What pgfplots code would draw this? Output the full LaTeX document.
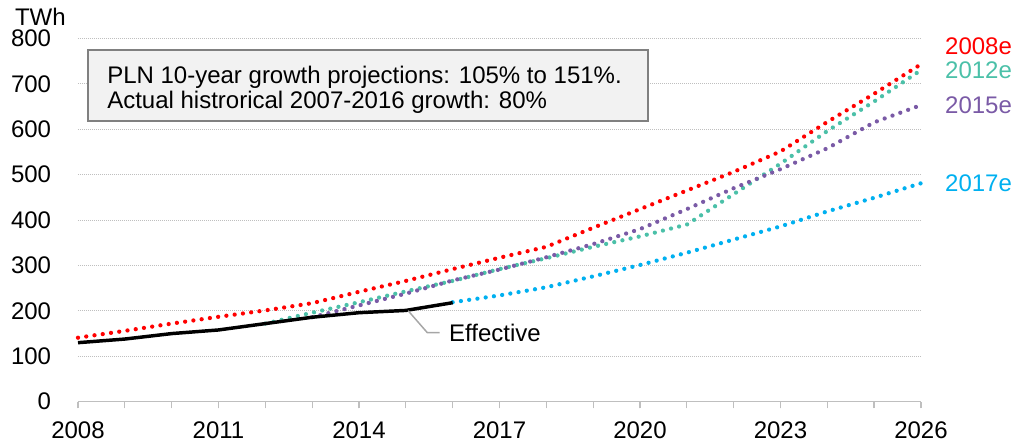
\documentclass[border=0pt]{standalone}
\usepackage{fontspec}
\setmainfont{Liberation Sans}
\usepackage{pgfplots}
\pgfplotsset{compat=1.18}

\definecolor{c08}{HTML}{FF0000}
\definecolor{c12}{HTML}{4BC0A8}
\definecolor{c15}{HTML}{7A5AA6}
\definecolor{c17}{HTML}{00B0F0}
\definecolor{gridgray}{HTML}{BFBFBF}
\definecolor{boxfill}{HTML}{F2F2F2}
\definecolor{boxdraw}{HTML}{808080}
\definecolor{leader}{HTML}{A6A6A6}

\begin{document}
\fontsize{18}{21}\selectfont
\begin{tikzpicture}
\path[use as bounding box] (-58.5pt,-32.5pt) rectangle (710.25pt,301.3pt);
\begin{axis}[
    scale only axis, width=632.25pt, height=272.55pt,
    xmin=2008, xmax=2026, ymin=0, ymax=800,
    axis x line*=bottom, axis y line*=left,
    x axis line style={draw=gridgray, line width=0.9pt, -},
    y axis line style={draw=none},
    xtick={2008,2011,...,2026},
    minor xtick={2009,...,2025},
    ytick={0,100,...,800},
    tick align=outside,
    major tick length=5pt, minor tick length=5pt,
    x tick style={draw=gridgray, line width=0.9pt},
    y tick style={draw=none},
    ymajorgrids,
    grid style={draw=gridgray, dash pattern=on 0.75pt off 0.75pt, line width=0.6pt},
    xticklabel style={/pgf/number format/1000 sep={}, inner sep=0pt, anchor=north, yshift=-10pt},
    yticklabel style={inner sep=0pt, anchor=east, xshift=-15pt},
    /pgf/number format/assume math mode=true,
    clip=false,
    every axis plot/.append style={line width=3.2pt, line cap=round, dash pattern=on 0pt off 6.25pt},
]

% 2008e
\addplot[c08] coordinates {
 (2008,141) (2009,156) (2010,172) (2011,187) (2012,201) (2013,217) (2014,242)
 (2015,266) (2016,292) (2017,317) (2018,341) (2019,383) (2020,424) (2021,465)
 (2022,506) (2023,551) (2024,616) (2025,678) (2026,743)};
% 2012e
\addplot[c12] coordinates {
 (2012,172) (2013,196) (2014,219) (2015,243) (2016,266) (2017,292) (2018,316)
 (2019,341) (2020,364) (2021,390) (2022,457) (2023,524) (2024,596) (2025,661)
 (2026,730)};
% 2015e
\addplot[c15] coordinates {
 (2013,186) (2014,212) (2015,238) (2016,267) (2017,291) (2018,318) (2019,347)
 (2020,380) (2021,424) (2022,470) (2023,512) (2024,558) (2025,615) (2026,653)};
% 2017e
\addplot[c17] coordinates {
 (2016,219) (2017,234) (2018,252) (2019,276) (2020,301) (2021,328) (2022,357)
 (2023,386) (2024,419) (2025,449) (2026,481)};
% effective
\addplot[black, line width=2.6pt, solid, line cap=butt, line join=round] coordinates {
 (2008,130) (2009,138) (2010,150) (2011,158) (2012,172) (2013,186) (2014,196)
 (2015,201) (2016,218)};

\draw[boxdraw, fill=boxfill, line width=1.5pt] (axis cs:2008.21,774.2) rectangle (axis cs:2020.17,617.9);
\node[anchor=west, align=left, inner sep=0pt, font=\fontsize{18}{18.75}\selectfont]
  at (axis cs:2008.62,687) {PLN 10-year growth projections: 105\% to 151\%.\\Actual histrorical 2007-2016 growth: 80\%};

\draw[leader, line width=1.1pt] (axis cs:2015.05,200.3) -- (axis cs:2015.46,151.9) -- (axis cs:2015.72,151.9);
\node[anchor=west, inner sep=0pt] at (axis cs:2015.92,151) {Effective};

\node[anchor=west, inner sep=0pt, text=c08] at (axis cs:2026.51,783) {2008e};
\node[anchor=west, inner sep=0pt, text=c12] at (axis cs:2026.51,730.6) {2012e};
\node[anchor=west, inner sep=0pt, text=c15] at (axis cs:2026.51,653) {2015e};
\node[anchor=west, inner sep=0pt, text=c17] at (axis cs:2026.51,481) {2017e};

\node[anchor=base east, inner sep=0pt] at ([xshift=-9pt,yshift=9.5pt]rel axis cs:0,1) {TWh};
\end{axis}
\end{tikzpicture}
\end{document}
